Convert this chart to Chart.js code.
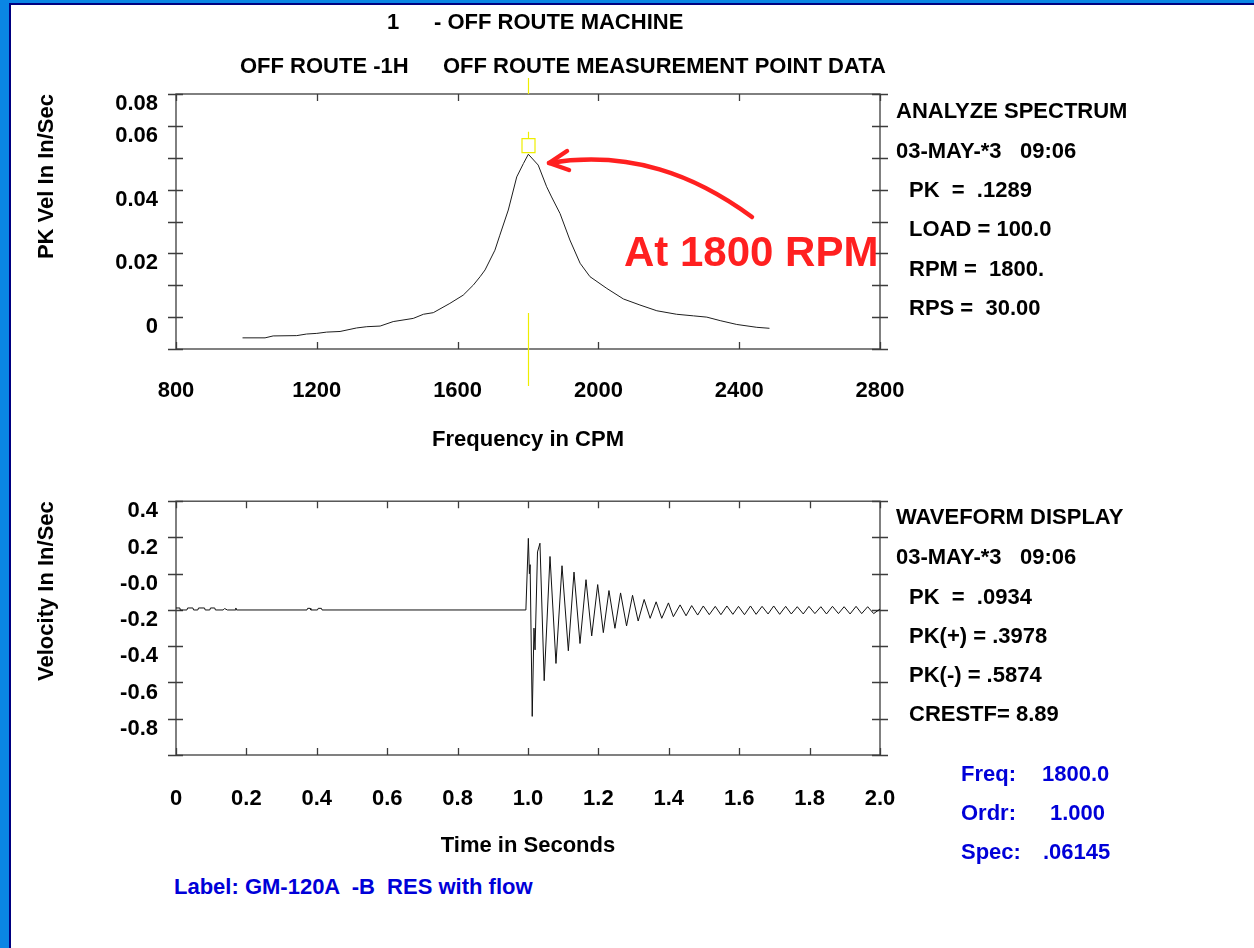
<!DOCTYPE html>
<html>
<head>
<meta charset="utf-8">
<script src="https://cdn.jsdelivr.net/npm/chart.js@4.4.1/dist/chart.umd.min.js"></script>
<style>
body { margin: 0; background: #fff; }
#page { position: relative; width: 1254px; height: 948px; overflow: hidden; background: #fff;
        font-family: "Liberation Sans", Arial, sans-serif; font-weight: bold; }
.t { position: absolute; font-size: 22px; line-height: 24px; white-space: pre; color: #000; }
.b { color: #0000d8; }
.strip { position: absolute; }
canvas { position: absolute; left: 0; }
</style>
</head>
<body>
<div id="page">
  <div class="strip" style="left:0;top:0;width:1254px;height:5px;background:#0a86e4"></div>
  <div class="strip" style="left:0;top:0;width:11px;height:948px;background:#0a86e4"></div>
  <div class="strip" style="left:9px;top:3px;width:1245px;height:2px;background:#000080"></div>
  <div class="strip" style="left:9px;top:3px;width:2px;height:945px;background:#000080"></div>

  <canvas id="specChart" width="1254" height="470" style="top:0"></canvas>
  <canvas id="waveChart" width="1254" height="400" style="top:470px"></canvas>

  <div class="t" style="left:387px;top:10px">1</div>
  <div class="t" style="left:434px;top:10px">- OFF ROUTE MACHINE</div>
  <div class="t" style="left:240px;top:54px">OFF ROUTE -1H</div>
  <div class="t" style="left:443px;top:54px">OFF ROUTE MEASUREMENT POINT DATA</div>

  <div class="t" style="left:896px;top:99px">ANALYZE SPECTRUM</div>
  <div class="t" style="left:896px;top:139px">03-MAY-*3   09:06</div>
  <div class="t" style="left:909px;top:178px">PK  =  .1289</div>
  <div class="t" style="left:909px;top:217px">LOAD = 100.0</div>
  <div class="t" style="left:909px;top:257px">RPM =  1800.</div>
  <div class="t" style="left:909px;top:296px">RPS =  30.00</div>

  <div class="t" style="left:896px;top:505px">WAVEFORM DISPLAY</div>
  <div class="t" style="left:896px;top:545px">03-MAY-*3   09:06</div>
  <div class="t" style="left:909px;top:585px">PK  =  .0934</div>
  <div class="t" style="left:909px;top:624px">PK(+) = .3978</div>
  <div class="t" style="left:909px;top:663px">PK(-) = .5874</div>
  <div class="t" style="left:909px;top:702px">CRESTF= 8.89</div>

  <div class="t b" style="left:961px;top:762px">Freq:</div>
  <div class="t b" style="left:1042px;top:762px">1800.0</div>
  <div class="t b" style="left:961px;top:801px">Ordr:</div>
  <div class="t b" style="left:1050px;top:801px">1.000</div>
  <div class="t b" style="left:961px;top:840px">Spec:</div>
  <div class="t b" style="left:1043px;top:840px">.06145</div>

  <div class="t b" style="left:174px;top:875px">Label: GM-120A  -B  RES with flow</div>

  <svg style="position:absolute;left:0;top:0" width="1254" height="470">
    <path d="M752,217 C695,175 630,150 549,163" fill="none" stroke="#ff2020" stroke-width="4.5" stroke-linecap="round"/>
    <path d="M567,151 L549,163 L569,170" fill="none" stroke="#ff2020" stroke-width="4.5" stroke-linecap="round" stroke-linejoin="round"/>
  </svg>
  <div style="position:absolute;left:624px;top:227px;font-size:42px;line-height:50px;color:#ff2020;white-space:pre">At 1800 RPM</div>
</div>

<script>
// spectrum (top)
const specCpm = [989, 1053, 1076, 1143, 1171, 1200, 1228, 1266, 1313, 1342, 1380, 1417, 1474, 1503, 1531,
  1578, 1616, 1645, 1664, 1678, 1706, 1720, 1744, 1768, 1787, 1801, 1829, 1853, 1867, 1891, 1919, 1948,
  1976, 2024, 2071, 2118, 2166, 2222, 2270, 2308, 2346, 2393, 2450, 2486];
const specVel = [-0.0065, -0.0065, -0.0059, -0.0058, -0.0053, -0.0051, -0.0047, -0.0045, -0.0034, -0.0030,
  -0.0028, -0.0014, -0.0004, 0.0009, 0.0014, 0.0043, 0.0069, 0.0101, 0.0127, 0.0148, 0.0210, 0.0257, 0.0336,
  0.0440, 0.0482, 0.0511, 0.0477, 0.0409, 0.0377, 0.0325, 0.0242, 0.0169, 0.0127, 0.0090, 0.0057, 0.0038,
  0.0020, 0.0009, 0.0004, 0.0000, -0.0011, -0.0023, -0.0032, -0.0035];
const specXTicks = [800, 1200, 1600, 2000, 2400, 2800];
const specYTickValues = [0, 0.02, 0.04, 0.06, 0.07];
const specYTickLabels = ['0', '0.02', '0.04', '0.06', '0.08'];
const cursorCpm = 1800;
const cursorLevel = 0.0538;

// waveform (bottom)
const waveTime = [0, 0.011, 0.012, 0.031, 0.033, 0.048, 0.050, 0.062, 0.064, 0.081, 0.083, 0.096, 0.098,
  0.110, 0.112, 0.134, 0.138, 0.142, 0.146, 0.168, 0.170, 0.172, 0.372, 0.374, 0.381, 0.383, 0.402, 0.404,
  0.413, 0.415, 0.994,
  1.001, 1.004, 1.006, 1.012, 1.017, 1.020, 1.027, 1.034, 1.046, 1.0625, 1.0795, 1.0966, 1.1146, 1.1307,
  1.1477, 1.1648, 1.181, 1.198, 1.214, 1.230, 1.247, 1.263, 1.280, 1.297, 1.313, 1.330, 1.347, 1.364, 1.380,
  1.399, 1.413, 1.432, 1.449, 1.465, 1.482, 1.498, 1.515, 1.532, 1.548, 1.565, 1.582, 1.598, 1.615, 1.632,
  1.648, 1.665, 1.682, 1.698, 1.715, 1.732, 1.748, 1.765, 1.782, 1.798, 1.815, 1.832, 1.848, 1.865, 1.882,
  1.898, 1.915, 1.932, 1.948, 1.965, 1.982, 2.000];
const waveVel = [-0.189, -0.189, -0.2, -0.2, -0.189, -0.189, -0.2, -0.2, -0.189, -0.189, -0.2, -0.2, -0.189,
  -0.189, -0.2, -0.2, -0.192, -0.196, -0.2, -0.2, -0.189, -0.2, -0.2, -0.191, -0.191, -0.2, -0.2, -0.191,
  -0.191, -0.2, -0.2,
  0.195, 0.0, 0.05, -0.787, -0.30, -0.42, 0.12, 0.168, -0.590, 0.095, -0.495, 0.044, -0.425, 0.009,
  -0.385, -0.033, -0.343, -0.060, -0.325, -0.093, -0.301, -0.106, -0.288, -0.119, -0.261, -0.142, -0.246,
  -0.155, -0.246, -0.161, -0.237, -0.172, -0.232, -0.176, -0.228, -0.178, -0.226, -0.180, -0.226, -0.178,
  -0.224, -0.180, -0.226, -0.178, -0.224, -0.180, -0.222, -0.178, -0.224, -0.180, -0.222, -0.182, -0.222,
  -0.180, -0.220, -0.182, -0.222, -0.180, -0.220, -0.182, -0.222, -0.180, -0.220, -0.182, -0.220, -0.195];
const waveXTickValues = [0, 0.2, 0.4, 0.6, 0.8, 1.0, 1.2, 1.4, 1.6, 1.8, 2.0];
const waveXTickLabels = ['0', '0.2', '0.4', '0.6', '0.8', '1.0', '1.2', '1.4', '1.6', '1.8', '2.0'];
const waveYTickValues = [-0.8, -0.6, -0.4, -0.2, 0, 0.2, 0.4];
const waveYTickLabels = ['-0.8', '-0.6', '-0.4', '-0.2', '-0.0', '0.2', '0.4'];

const font = { family: 'Liberation Sans', size: 22, weight: 'bold' };

function pick(values, labels, v) {
  const i = values.findIndex(t => Math.abs(t - v) < 1e-6);
  return i < 0 ? '' : labels[i];
}

// box with tick marks on all four sides
const frameTicks = {
  id: 'frameTicks',
  beforeDatasetsDraw(chart) {
    const { ctx, chartArea: a, scales: { x, y } } = chart;
    ctx.save();
    ctx.strokeStyle = '#3c3c3c';
    ctx.lineWidth = 1.3;
    ctx.strokeRect(a.left, a.top, a.right - a.left, a.bottom - a.top);
    ctx.beginPath();
    y.ticks.forEach(t => {
      const py = Math.round(y.getPixelForValue(t.value)) + 0.5;
      ctx.moveTo(a.left - 8, py); ctx.lineTo(a.left + 7, py);
      ctx.moveTo(a.right - 8, py); ctx.lineTo(a.right + 8, py);
    });
    x.ticks.forEach(t => {
      const px = Math.round(x.getPixelForValue(t.value)) + 0.5;
      ctx.moveTo(px, a.top); ctx.lineTo(px, a.top + 7);
      ctx.moveTo(px, a.bottom); ctx.lineTo(px, a.bottom - 7);
    });
    ctx.stroke();
    ctx.restore();
  }
};

const cursor = {
  id: 'cursor',
  afterDatasetsDraw(chart) {
    const { ctx, chartArea: a, scales: { x, y } } = chart;
    const px = Math.round(x.getPixelForValue(cursorCpm)) + 0.5;
    const py = y.getPixelForValue(cursorLevel);
    ctx.save();
    ctx.strokeStyle = '#eeee00';
    ctx.lineWidth = 1.2;
    ctx.beginPath();
    ctx.moveTo(px, a.top - 16); ctx.lineTo(px, a.top);
    ctx.moveTo(px, py - 14); ctx.lineTo(px, py - 7);
    ctx.moveTo(px, a.bottom - 36); ctx.lineTo(px, a.bottom + 37);
    ctx.rect(px - 6.5, py - 7, 13, 14);
    ctx.stroke();
    ctx.restore();
  }
};

function baseScales(o) {
  return {
    x: {
      type: 'linear', min: o.xmin, max: o.xmax,
      grid: { display: false, drawTicks: false }, border: { display: false },
      ticks: { stepSize: o.xstep, autoSkip: false, maxRotation: 0, padding: o.xpad, color: '#000', font,
               callback: o.xlabel },
      title: { display: true, text: o.xtitle, color: '#000', font, padding: { top: 0, bottom: o.xtitlePad } },
      afterFit: s => { s.height = o.xheight; }
    },
    y: {
      type: 'linear', min: o.ymin, max: o.ymax,
      grid: { display: false, drawTicks: false }, border: { display: false },
      ticks: { stepSize: o.ystep, autoSkip: false, padding: 18, labelOffset: 10, color: '#000', font,
               callback: o.ylabel },
      title: { display: true, text: o.ytitle, align: 'end', color: '#000', font, padding: 0 },
      afterFit: s => { s.width = 142; }
    }
  };
}

new Chart(document.getElementById('specChart'), {
  type: 'line',
  data: {
    datasets: [{
      data: specCpm.map((c, i) => ({ x: c, y: specVel[i] })),
      borderColor: '#1e1e1e', borderWidth: 1, pointRadius: 0, tension: 0
    }]
  },
  options: {
    responsive: false, animation: false,
    layout: { padding: { left: 34, right: 374, top: 94, bottom: 0 } },
    plugins: { legend: { display: false }, tooltip: { enabled: false } },
    scales: baseScales({
      xmin: 800, xmax: 2800, xstep: 400, xpad: 29, xheight: 121, xtitlePad: 17,
      xtitle: 'Frequency in CPM',
      xlabel: v => specXTicks.includes(v) ? String(v) : '',
      ymin: -0.01, ymax: 0.07, ystep: 0.01,
      ytitle: 'PK Vel In In/Sec',
      ylabel: v => pick(specYTickValues, specYTickLabels, v)
    })
  },
  plugins: [frameTicks, cursor]
});

new Chart(document.getElementById('waveChart'), {
  type: 'line',
  data: {
    datasets: [{
      data: waveTime.map((t, i) => ({ x: t, y: waveVel[i] })),
      borderColor: '#111', borderWidth: 1, pointRadius: 0, tension: 0
    }]
  },
  options: {
    responsive: false, animation: false,
    layout: { padding: { left: 34, right: 374, top: 29, bottom: 0 } },
    plugins: { legend: { display: false }, tooltip: { enabled: false } },
    scales: baseScales({
      xmin: 0, xmax: 2, xstep: 0.2, xpad: 31, xheight: 115, xtitlePad: 11,
      xtitle: 'Time in Seconds',
      xlabel: v => pick(waveXTickValues, waveXTickLabels, v),
      ymin: -1.0, ymax: 0.4, ystep: 0.2,
      ytitle: 'Velocity In In/Sec',
      ylabel: v => pick(waveYTickValues, waveYTickLabels, v)
    })
  },
  plugins: [frameTicks]
});
</script>
</body>
</html>
